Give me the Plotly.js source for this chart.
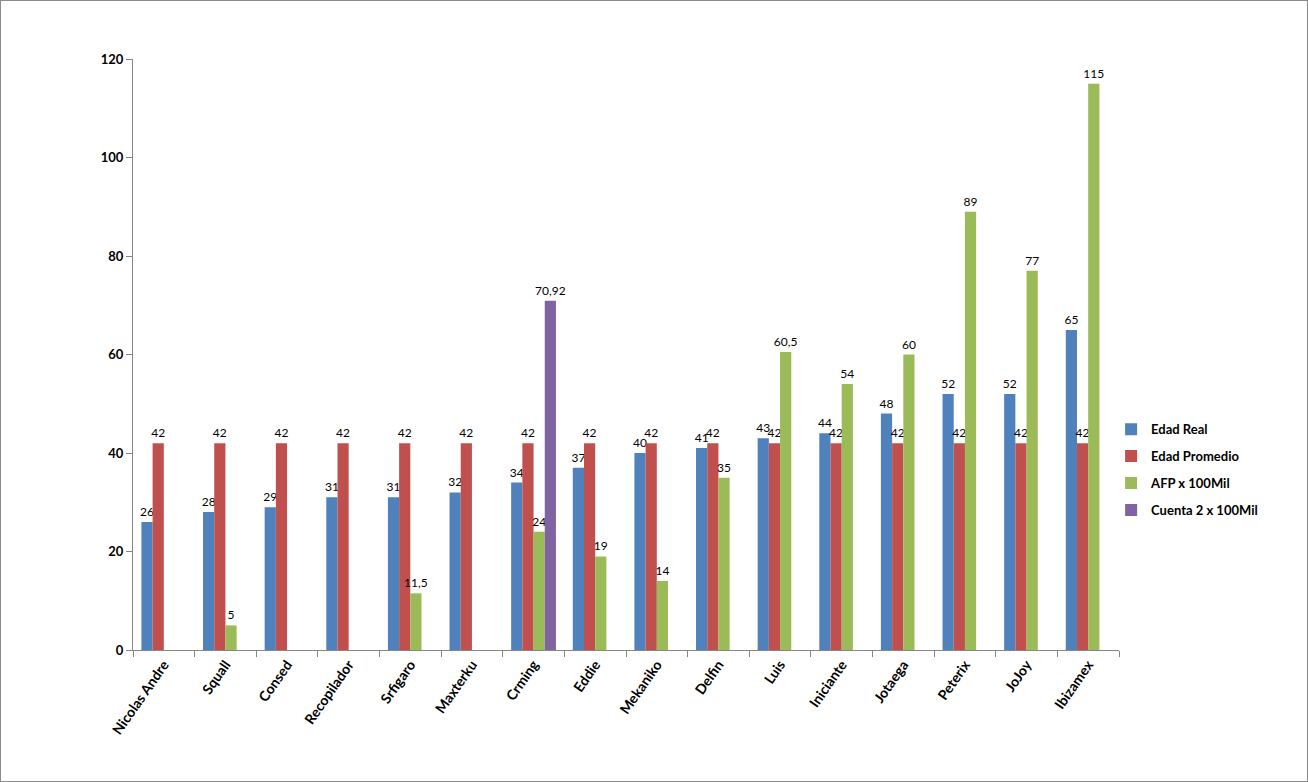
<!DOCTYPE html>
<html><head><meta charset="utf-8">
<script src="https://cdn.plot.ly/plotly-3.0.1.min.js"></script>
<style>
html,body{margin:0;padding:0;background:#fff;}
#wrap{width:1306px;height:780px;border:1px solid #8a8a8a;}
#chart{width:1306px;height:780px;}
</style></head>
<body><div id="wrap"><div id="chart"></div></div>
<script>
const categories = ["Nicolas Andre","Squall","Consed","Recopilador","Srfigaro","Maxterku","Crming","Eddie","Mekaniko","Delfin","Luis","Iniciante","Jotaega","Peterix","JoJoy","Ibizamex"];
const edadReal = [26,28,29,31,31,32,34,37,40,41,43,44,48,52,52,65];
const edadPromedio = [42,42,42,42,42,42,42,42,42,42,42,42,42,42,42,42];
const afp = [null,5,null,null,11.5,null,24,19,14,35,60.5,54,60,89,77,115];
const cuenta2 = [null,null,null,null,null,null,70.92,null,null,null,null,null,null,null,null,null];
const seriesNames = ["Edad Real","Edad Promedio","AFP x 100Mil","Cuenta 2 x 100Mil"];
const colors = ["#4f81bd","#c0504d","#9bbb59","#8064a2"];

function lbl(arr){ return arr.map(v => v===null ? "" : String(v).replace(".", ",")); }
const font = "Lato, 'Open Sans', 'Liberation Sans', sans-serif";
const data = [edadReal, edadPromedio, afp, cuenta2].map((vals,i)=>({
  type:"bar", x:categories, y:vals, name:seriesNames[i], legendgroup:"g"+i,
  marker:{color:colors[i]},
  text:lbl(vals), textposition:"outside", cliponaxis:false, constraintext:"none",
  textfont:{family:font,size:12,color:"#000"},
  hoverinfo:"y"
}));
const layout = {
  width:1306, height:780,
  margin:{l:132,r:188,t:58,b:131},
  paper_bgcolor:"#fff", plot_bgcolor:"#fff",
  barmode:"group", bargap:0.273, bargroupgap:0,
  font:{family:font,color:"#000"},
  uniformtext:{mode:false},
  xaxis:{type:"category", showline:true, linecolor:"#868686", linewidth:1,
    ticks:"outside", tickson:"boundaries", ticklen:6, tickcolor:"#868686",
    tickangle:-55, tickfont:{family:font,size:14,color:"#000",weight:"bold"},
    showgrid:false, zeroline:false},
  yaxis:{range:[0,120], dtick:20, showline:true, linecolor:"#868686", linewidth:1,
    ticks:"outside", ticklen:6, tickcolor:"#868686",
    tickfont:{family:font,size:13,color:"#000",weight:"bold"},
    showgrid:false, zeroline:false},
  legend:{x:0.992, xanchor:"left", y:0.305, yanchor:"middle",
    font:{family:font,size:13,color:"#000",weight:"bold"},
    traceorder:"grouped", tracegroupgap:7, itemwidth:30, itemsizing:"constant"},
  showlegend:true
};
Plotly.newPlot("chart", data, layout, {displayModeBar:false, staticPlot:true});
</script></body></html>
